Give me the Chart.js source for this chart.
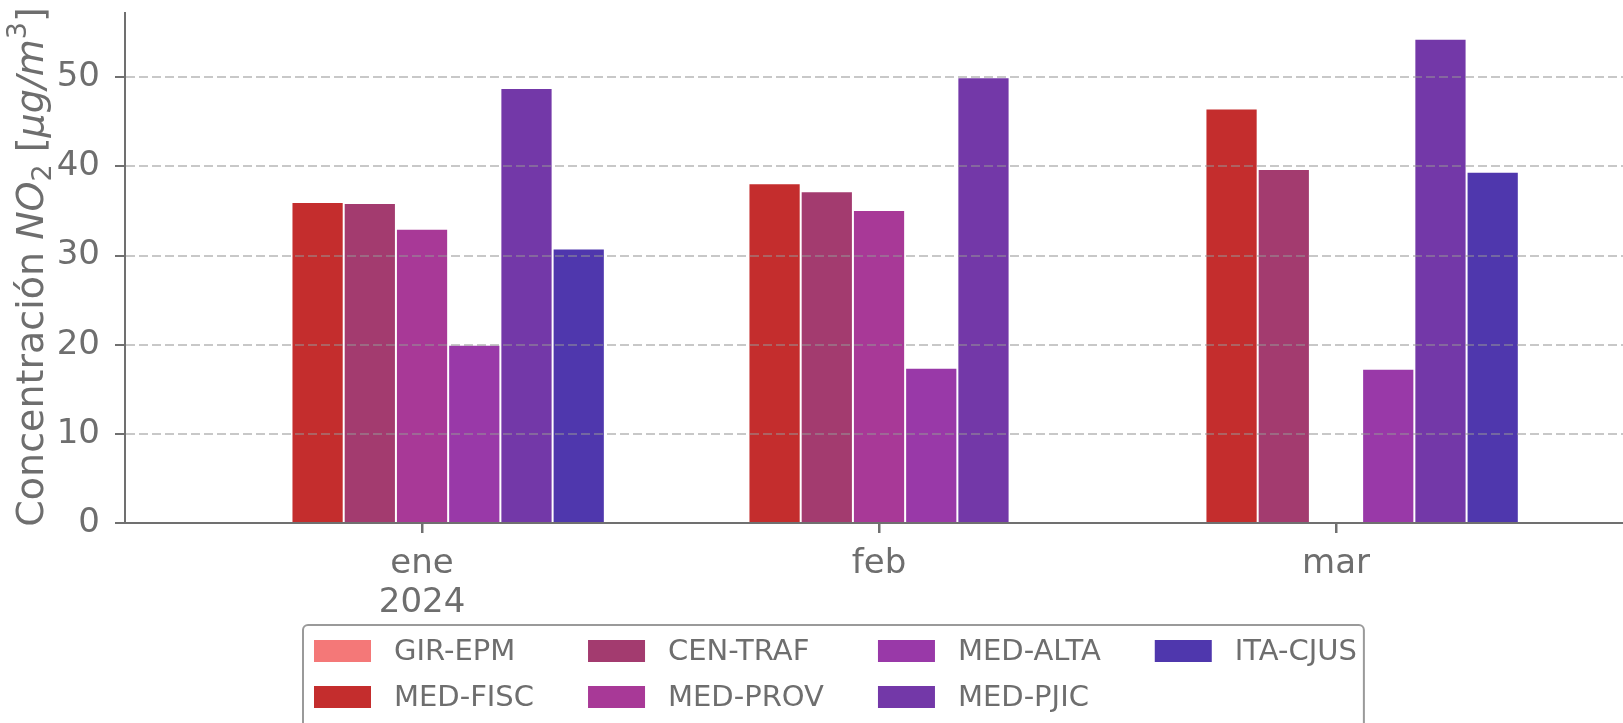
<!DOCTYPE html>
<html>
<head>
<meta charset="utf-8">
<title>NO2 mensual</title>
<script src="https://cdn.jsdelivr.net/npm/chart.js@4.4.1/dist/chart.umd.min.js"></script>
<style>
  html, body { margin: 0; padding: 0; background: #ffffff; }
  #wrap { width: 1623px; height: 723px; position: relative; }
</style>
</head>
<body>
<div id="wrap"><canvas id="chart1"></canvas></div>
<script>
// meses (eje x)
var months = [['ene', '2024'], 'feb', 'mar'];
// estaciones
var stations = ['GIR-EPM', 'MED-FISC', 'CEN-TRAF', 'MED-PROV', 'MED-ALTA', 'MED-PJIC', 'ITA-CJUS'];
// concentraciones NO2 por estación
var girEpm  = [null, null, null];
var medFisc = [36.0, 38.1, 46.5];
var cenTraf = [35.9, 37.2, 39.7];
var medProv = [33.0, 35.1, null];
var medAlta = [20.0, 17.4, 17.3];
var medPjic = [48.8, 50.0, 54.3];
var itaCjus = [30.8, null, 39.4];
// colores
var colors = ['#f47878', '#c42d2d', '#a33b6f', '#a83997', '#9939a8', '#7338a8', '#4f37ad'];
// ticks eje y
var yTicks = [0, 10, 20, 30, 40, 50];

var seriesValues = [girEpm, medFisc, cenTraf, medProv, medAlta, medPjic, itaCjus];
var textColor = '#6e6e6e';
var axisColor = '#707070';
var fontFamily = "'DejaVu Sans', sans-serif";

var datasets = stations.map(function (name, i) {
    return {
        label: name,
        data: seriesValues[i].map(function (v, j) { return {x: j, y: v}; }),
        backgroundColor: colors[i],
        borderColor: 'rgba(255,255,255,0.3)',
        borderWidth: 1,
        categoryPercentage: 0.8,
        barPercentage: 1.0
    };
});

// título del eje y con subíndice / superíndice
var yTitlePlugin = {
    id: 'yTitle',
    afterDraw: function (chart) {
        var ctx = chart.ctx;
        var size = 38;
        var small = Math.round(size * 0.7);
        var parts = [
            {t: 'Concentración ', f: size + 'px ' + fontFamily, dy: 0},
            {t: 'NO', f: 'italic ' + size + 'px ' + fontFamily, dy: 0},
            {t: '2', f: small + 'px ' + fontFamily, dy: 8},
            {t: ' [', f: size + 'px ' + fontFamily, dy: 0},
            {t: 'μg/m', f: 'italic ' + size + 'px ' + fontFamily, dy: 0},
            {t: '3', f: small + 'px ' + fontFamily, dy: -17},
            {t: ']', f: size + 'px ' + fontFamily, dy: 0}
        ];
        ctx.save();
        var total = 0;
        parts.forEach(function (p) { ctx.font = p.f; p.w = ctx.measureText(p.t).width; total += p.w; });
        ctx.translate(43, 267);
        ctx.rotate(-Math.PI / 2);
        ctx.fillStyle = textColor;
        ctx.textBaseline = 'alphabetic';
        ctx.textAlign = 'left';
        var x = -total / 2;
        parts.forEach(function (p) {
            ctx.font = p.f;
            ctx.fillText(p.t, x, p.dy);
            x += p.w;
        });
        ctx.restore();
    }
};

// marcas del eje x en cada mes
var xTickMarks = {
    id: 'xTickMarks',
    afterDraw: function (chart) {
        var scale = chart.scales.x;
        var ctx = chart.ctx;
        ctx.save();
        ctx.strokeStyle = axisColor;
        ctx.lineWidth = 2;
        scale.ticks.forEach(function (t, i) {
            var px = Math.round(scale.getPixelForTick(i)) + 0.5;
            ctx.beginPath();
            ctx.moveTo(px, scale.top);
            ctx.lineTo(px, scale.top + 10);
            ctx.stroke();
        });
        ctx.restore();
    }
};

// leyenda en columnas (2 filas)
var legendPlugin = {
    id: 'colLegend',
    afterDraw: function (chart) {
        var ctx = chart.ctx;
        var rows = 2;
        var left = 303, top = 625;
        var swX = 314, swW = 57, swH = 22;
        var gap = 23, colSpace = 54;
        var rowY = [651, 697];
        ctx.save();
        ctx.font = '29px ' + fontFamily;
        var nCols = Math.ceil(chart.data.datasets.length / rows);
        var colX = [];
        var x = swX;
        for (var c = 0; c < nCols; c++) {
            colX.push(x);
            var maxW = 0;
            for (var r = 0; r < rows; r++) {
                var ds = chart.data.datasets[c * rows + r];
                if (ds) maxW = Math.max(maxW, ctx.measureText(ds.label).width);
            }
            x += swW + gap + maxW + colSpace;
        }
        var right = x - colSpace + 7;
        ctx.fillStyle = 'rgba(255,255,255,0.8)';
        ctx.strokeStyle = '#9a9a9a';
        ctx.lineWidth = 2;
        ctx.beginPath();
        ctx.roundRect(left, top, right - left, 140, 5);
        ctx.fill();
        ctx.stroke();
        ctx.textBaseline = 'middle';
        ctx.textAlign = 'left';
        chart.data.datasets.forEach(function (ds, i) {
            var c = Math.floor(i / rows), r = i % rows;
            var y = rowY[r];
            ctx.fillStyle = ds.backgroundColor;
            ctx.fillRect(colX[c], y - swH / 2, swW, swH);
            ctx.fillStyle = textColor;
            ctx.fillText(ds.label, colX[c] + swW + gap, y + 1);
        });
        ctx.restore();
    }
};

function noPad(scale) {
    scale.paddingTop = 0;
    scale.paddingBottom = 0;
    scale.paddingLeft = 0;
    scale.paddingRight = 0;
}

var config1 = {
    type: 'bar',
    data: { datasets: datasets },
    options: {
        responsive: true,
        maintainAspectRatio: false,
        animation: false,
        layout: { padding: { top: 13, right: 0, bottom: 0, left: 0 } },
        scales: {
            x: {
                type: 'linear',
                min: -0.65,
                max: 2.628,
                offset: false,
                afterBuildTicks: function (scale) {
                    scale.ticks = months.map(function (m, i) { return {value: i}; });
                },
                afterFit: function (scale) { scale.height = 200; noPad(scale); },
                ticks: {
                    color: textColor,
                    font: { family: fontFamily, size: 34, lineHeight: 1.15 },
                    padding: 12,
                    maxRotation: 0,
                    autoSkip: false,
                    callback: function (value) { return months[value]; }
                },
                grid: {
                    offset: false,
                    drawOnChartArea: false,
                    drawTicks: true,
                    tickLength: 10,
                    tickColor: axisColor,
                    tickWidth: 2,
                    lineWidth: 2
                },
                border: { display: true, color: axisColor, width: 2, z: 1 }
            },
            y: {
                min: 0,
                max: 57.2,
                afterBuildTicks: function (scale) {
                    scale.ticks = yTicks.map(function (v) { return {value: v}; });
                },
                afterFit: function (scale) { scale.width = 125; noPad(scale); },
                ticks: {
                    color: textColor,
                    font: { family: fontFamily, size: 34 },
                    padding: 15
                },
                grid: {
                    z: 1,
                    color: function (c) { return c.tick && c.tick.value === 0 ? 'rgba(0,0,0,0)' : 'rgba(150,150,150,0.52)'; },
                    lineWidth: 2,
                    drawTicks: true,
                    tickLength: 10,
                    tickColor: axisColor,
                    tickWidth: 2,
                    tickBorderDash: []
                },
                border: { display: true, color: axisColor, width: 2, dash: [9, 4], z: 1 }
            }
        },
        plugins: {
            legend: { display: false },
            tooltip: { enabled: false },
            title: { display: false }
        }
    },
    plugins: [yTitlePlugin, xTickMarks, legendPlugin]
};

var chart1 = new Chart(document.getElementById('chart1'), config1);
</script>
</body>
</html>
